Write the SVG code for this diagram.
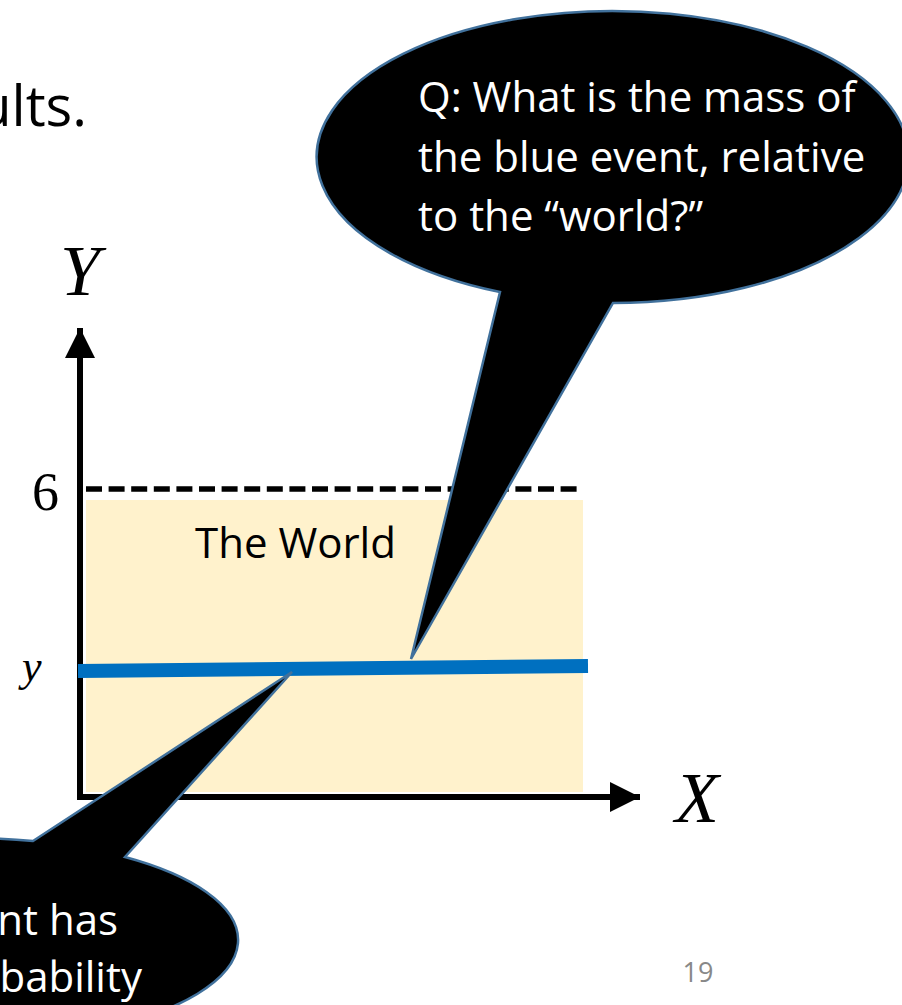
<svg xmlns="http://www.w3.org/2000/svg" width="902" height="1005" viewBox="0 0 902 1005">
  <style>
    .sans { font-family: "Open Sans", "Noto Sans", sans-serif; }
    .math { font-family: "Liberation Serif", "DejaVu Serif", serif; }
    .bubble { fill: #000000; stroke: #41719C; stroke-width: 2.5; stroke-linejoin: miter; }
    .btext { fill: #FFFFFF; font-size: 42px; }
    .axis { stroke: #000000; stroke-width: 6; fill: none; }
  </style>
  <defs>
    <marker id="arrow" markerUnits="userSpaceOnUse" markerWidth="32" markerHeight="32" refX="30" refY="15" orient="auto">
      <path d="M0,0 L30,15 L0,30 Z" fill="#000000"/>
    </marker>
  </defs>
  <rect width="902" height="1005" fill="#FFFFFF"/>

  <g id="title">
    <text class="sans" x="87" y="126" font-size="56" text-anchor="end" fill="#000000">ults.</text>
  </g>

  <g id="world">
    <rect x="86" y="500" width="497" height="292" fill="#FFF2CC"/>
    <text class="sans" x="195" y="558" font-size="42" fill="#000000">The World</text>
  </g>

  <g id="bound-6">
    <line x1="86" y1="489" x2="583" y2="489" stroke="#000000" stroke-width="5.5" stroke-dasharray="16 6.6"/>
    <text class="math" x="32" y="510" font-size="54" fill="#000000">6</text>
  </g>

  <g id="connectors">
    <line class="axis" x1="80" y1="800" x2="80" y2="328" marker-end="url(#arrow)"/>
    <line class="axis" x1="77" y1="797" x2="640" y2="797" marker-end="url(#arrow)"/>
  </g>

  <g id="axis-labels">
    <text class="math" x="60" y="295" font-size="72" font-style="italic" fill="#000000">Y</text>
    <text class="math" x="675" y="822" font-size="72" font-style="italic" fill="#000000">X</text>
  </g>

  <g id="event-y">
    <line x1="78" y1="671" x2="588" y2="666" stroke="#0070C0" stroke-width="14"/>
    <text class="math" x="22" y="681" font-size="44" font-style="italic" fill="#000000">y</text>
  </g>

  <g id="bubble-question">
    <path class="bubble" d="M 500 292 L 411 659 L 613 303 A 296 146 0 1 0 500 292 Z"/>
    <text class="sans btext" x="418" y="112">Q: What is the mass of</text>
    <text class="sans btext" x="418" y="172">the blue event, relative</text>
    <text class="sans btext" x="418" y="231">to the “world?”</text>
  </g>

  <g id="bubble-answer">
    <path class="bubble" d="M 33 841 L 292 672 L 125 857 A 270 102 0 1 1 33 841 Z"/>
    <text class="sans btext" x="118" y="935" text-anchor="end">nt has</text>
    <text class="sans btext" x="142" y="992" text-anchor="end">bability</text>
  </g>

  <g id="page-number">
    <text class="sans" x="698" y="982" font-size="27" text-anchor="middle" fill="#888888">19</text>
  </g>
</svg>
